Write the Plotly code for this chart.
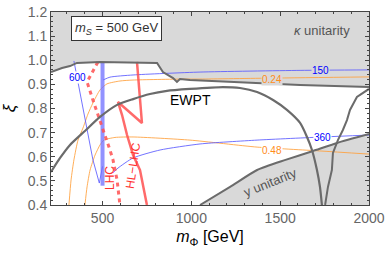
import plotly.graph_objects as go

# ---- data (m_Phi in GeV, xi) ----
kappa_m = [210, 238, 272, 317, 356, 486, 807, 840, 897, 919, 936, 992, 1330, 1612, 2000]
kappa_xi = [0.951, 0.960, 0.968, 0.976, 0.989, 0.993, 0.989, 0.951, 0.926, 0.910, 0.922, 0.918, 0.906, 0.897, 0.889]

yuni_m = [1049, 1218, 1370, 1530, 1685, 1820, 2000]
yuni_xi = [0.400, 0.475, 0.545, 0.587, 0.624, 0.657, 0.694]

ewpt_m = [210, 261, 317, 401, 486, 582, 672, 767, 863, 992, 1178, 1274, 1370, 1460, 1538, 1612, 1651, 1679, 1707, 1724, 1735]
ewpt_xi = [0.537, 0.595, 0.649, 0.707, 0.765, 0.815, 0.839, 0.860, 0.873, 0.881, 0.889, 0.885, 0.868, 0.835, 0.794, 0.740, 0.682, 0.628, 0.545, 0.475, 0.400]

ewpt2_m = [2000, 1961, 1932, 1893, 1876, 1853, 1825, 1797, 1791, 1769, 1753]
ewpt2_xi = [0.881, 0.864, 0.848, 0.794, 0.752, 0.711, 0.669, 0.616, 0.545, 0.475, 0.400]

blue150_m = [503, 542, 672, 1049, 1612, 2000]
blue150_xi = [0.918, 0.930, 0.939, 0.951, 0.958, 0.960]

blue600_m = [339, 446, 482, 500]
blue600_xi = [0.997, 0.587, 0.491, 0.560]

blue360_m = [559, 587, 672, 824, 1049, 1370, 1741, 2000]
blue360_xi = [0.533, 0.553, 0.595, 0.628, 0.653, 0.669, 0.682, 0.690]

blue_band_m = [500, 500]
blue_band_xi = [0.993, 0.480]

or24_m = [311, 323, 339, 362, 390, 418, 446, 486, 525, 598, 672, 953, 1049, 1454, 2000]
or24_xi = [0.400, 0.504, 0.587, 0.669, 0.719, 0.777, 0.823, 0.877, 0.902, 0.914, 0.918, 0.922, 0.922, 0.926, 0.931]

or48_m = [401, 413, 430, 458, 486, 508, 570, 672, 992, 1370, 1724, 2000]
or48_xi = [0.400, 0.475, 0.545, 0.607, 0.649, 0.669, 0.680, 0.682, 0.669, 0.640, 0.624, 0.611]

lhc_m = [474, 413, 446, 486, 525, 542, 559, 582, 598]
lhc_xi = [0.993, 0.910, 0.835, 0.752, 0.669, 0.628, 0.587, 0.504, 0.400]

hl_m = [694, 722, 587, 610, 638, 672, 711, 728, 750]
hl_xi = [0.993, 0.740, 0.827, 0.773, 0.690, 0.607, 0.545, 0.483, 0.400]

GRAYFILL = "#d9d9d9"
DARK = "#6b6b6b"
BLUE = "rgba(90,90,255,0.85)"
ORANGE = "rgba(255,160,60,0.85)"
RED = "rgba(255,80,80,0.85)"

fig = go.Figure()

# kappa unitarity region
fig.add_trace(go.Scatter(x=kappa_m + [2000, 210], y=kappa_xi + [1.2, 1.2], fill="toself",
                         fillcolor=GRAYFILL, line=dict(width=0), mode="lines", hoverinfo="skip"))
# y unitarity region
fig.add_trace(go.Scatter(x=yuni_m + [2000], y=yuni_xi + [0.4], fill="toself",
                         fillcolor=GRAYFILL, line=dict(width=0), mode="lines", hoverinfo="skip"))

def line(x, y, color, width, dash=None, shape="spline"):
    fig.add_trace(go.Scatter(x=x, y=y, mode="lines",
                             line=dict(color=color, width=width, dash=dash, shape=shape, smoothing=0.6),
                             hoverinfo="skip"))

# orange contours
line(or24_m, or24_xi, ORANGE, 1)
line(or48_m, or48_xi, ORANGE, 1)
# blue contours
line(blue150_m, blue150_xi, BLUE, 1)
line(blue600_m, blue600_xi, BLUE, 1, shape="linear")
line(blue360_m, blue360_xi, BLUE, 1)
line(blue_band_m, blue_band_xi, "rgba(110,110,255,0.75)", 4, shape="linear")
# red exclusions
line(lhc_m, lhc_xi, RED, 3, dash="4px,4px", shape="linear")
line(hl_m, hl_xi, RED, 2.5, shape="linear")
# boundaries
line(kappa_m, kappa_xi, DARK, 2, shape="linear")
line(yuni_m, yuni_xi, DARK, 2)
line(ewpt_m, ewpt_xi, DARK, 2.2)
line(ewpt2_m, ewpt2_xi, DARK, 2, shape="linear")

FONT = "Liberation Sans, Arial, sans-serif"

ann = [
    dict(x=77, y=77, text="600", color="blue", size=10, bg="white"),
    dict(x=320, y=70, text="150", color="blue", size=10, bg=GRAYFILL),
    dict(x=322, y=137, text="360", color="blue", size=10, bg="white"),
    dict(x=272, y=79, text="0.24", color="#ff8c1a", size=10, bg=GRAYFILL),
    dict(x=272, y=150, text="0.48", color="#ff8c1a", size=10, bg="white"),
]
annotations = []
for a in ann:
    annotations.append(dict(xref="paper", yref="paper", x=(a["x"] - 51) / 318, y=1 - (a["y"] - 12) / 193,
                            xanchor="center", yanchor="middle",
                            text=a["text"], showarrow=False, bgcolor=a["bg"], borderpad=0,
                            font=dict(color=a["color"], size=a["size"], family=FONT)))

def padd(px, py, text, size, color, angle=0, **kw):
    d = dict(xref="paper", yref="paper", x=(px - 51) / 318, y=1 - (py - 12) / 193, text=text,
             xanchor="center", yanchor="middle",
             showarrow=False, textangle=angle, font=dict(size=size, color=color, family=FONT))
    d.update(kw)
    annotations.append(d)

padd(190, 100, "EWPT", 14, "black")
padd(322, 30, "<i>κ</i> unitarity", 13, "#555555")
padd(270, 182, "y unitarity", 13, "#555555", angle=-22)
padd(110, 178, "LHC", 12, "#ff3030", angle=-90)
padd(133, 166, "HL−LHC", 12, "#ff3030", angle=-82)
padd(116, 29, "<i>m</i><sub><i>S</i></sub> = 500 GeV", 13, "#333333",
     bgcolor="white", bordercolor="#333333", borderwidth=1, borderpad=3)

fig.update_layout(
    width=388, height=257,
    margin=dict(l=51, r=19, t=12, b=52),
    paper_bgcolor="white", plot_bgcolor="white",
    showlegend=False,
    annotations=annotations,
    font=dict(family=FONT),
)
fig.update_xaxes(range=[210, 2000], tickvals=[500, 1000, 1500, 2000], ticks="inside", ticklen=4,
                 minor=dict(ticks="inside", ticklen=2, dtick=100, tick0=0), mirror="allticks",
                 showline=True, linecolor="#444444", linewidth=1, showgrid=False, zeroline=False,
                 automargin=False,
                 tickfont=dict(size=14, color="#666666"),
                 title=dict(text="<i>m</i><sub>Φ</sub> [GeV]", font=dict(size=16, color="black"), standoff=6))
fig.update_yaxes(range=[0.4, 1.2], tickvals=[0.4, 0.5, 0.6, 0.7, 0.8, 0.9, 1.0, 1.1, 1.2],
                 ticktext=["0.4", "0.5", "0.6", "0.7", "0.8", "0.9", "1.0", "1.1", "1.2"],
                 ticks="inside", ticklen=4,
                 minor=dict(ticks="inside", ticklen=2, dtick=0.02, tick0=0), mirror="allticks",
                 showline=True, linecolor="#444444", linewidth=1, showgrid=False, zeroline=False,
                 automargin=False,
                 tickfont=dict(size=14, color="#666666"),
                 title=dict(text="<i>ξ</i>", font=dict(size=17, color="black"), standoff=8))

fig.write_html("out.html", config={"displayModeBar": False},
               post_script="document.body.style.margin='0px';")
